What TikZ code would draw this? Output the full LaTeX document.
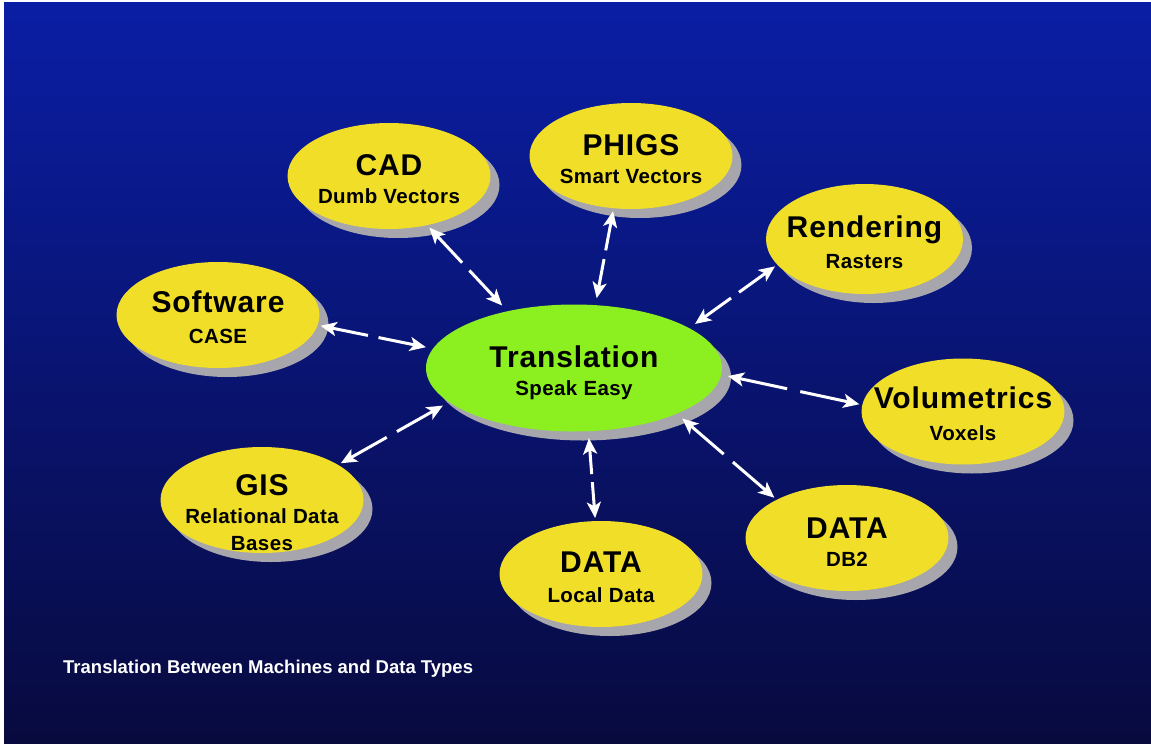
\documentclass[tikz,border=0pt]{standalone}
\usepackage{fontspec}
\setmainfont{Liberation Sans}
\usetikzlibrary{positioning,shapes,shadows,arrows.meta}
\definecolor{bgtop}{RGB}{10,30,165}
\definecolor{bgmid}{RGB}{10,26,132}
\definecolor{bgbot}{RGB}{8,10,62}
\definecolor{bubyellow}{RGB}{240,222,40}
\definecolor{bubgreen}{RGB}{140,240,32}
\definecolor{shadegray}{RGB}{166,166,172}
\tikzstyle{bubble} = [ellipse, fill=bubyellow, inner sep=0pt, outer sep=3pt, minimum width=203pt, minimum height=106pt, drop shadow={shadow xshift=9pt, shadow yshift=-9pt, fill=shadegray, opacity=1}]
\tikzstyle{hub} = [bubble, fill=bubgreen, minimum width=296pt, minimum height=127pt, outer sep=7pt]
\tikzstyle{head} = [anchor=base, inner sep=0pt, font=\fontsize{30}{30}\selectfont\bfseries\addfontfeatures{LetterSpace=3}]
\tikzstyle{sub} = [anchor=base, inner sep=0pt, font=\fontsize{20.5}{24}\selectfont\bfseries\addfontfeatures{LetterSpace=2}]
\tikzstyle{caption} = [anchor=base west, inner sep=0pt, text=white, font=\fontsize{18.5}{20}\selectfont\bfseries]
\tikzstyle{link} = [draw=white, line width=3pt, -{Stealth[length=16pt,width=14pt,inset=4pt]}]

\begin{document}
\begin{tikzpicture}[x=1pt, y=-1pt]
        \useasboundingbox (0,0) rectangle (1151,744);
        %Background
        \fill [white] (0,0) rectangle (1151,744);
        \shade [top color=bgtop, middle color=bgmid, bottom color=bgbot] (4,2) rectangle (1151,744);
        %Bubbles
        \node [hub] (trans) at (574,368) {};
        \node [head] (transH) at ([yshift=1pt]trans) {Translation};
        \node [sub] (transS) at ([yshift=-27pt]trans) {Speak Easy};
        \node [bubble] (cad) at (389,176) {};
        \node [head] (cadH) at ([yshift=1pt]cad) {CAD};
        \node [sub] (cadS) at ([yshift=-27pt]cad) {Dumb Vectors};
        \node [bubble] (phigs) at (631,156) {};
        \node [head] (phigsH) at ([yshift=1pt]phigs) {PHIGS};
        \node [sub] (phigsS) at ([yshift=-27pt]phigs) {Smart Vectors};
        \node [bubble, minimum width=197pt, minimum height=110pt] (rend) at (864.5,239) {};
        \node [head] (rendH) at ([yshift=2pt]rend) {Rendering};
        \node [sub] (rendS) at ([yshift=-29pt]rend) {Rasters};
        \node [bubble] (soft) at (218,315) {};
        \node [head] (softH) at ([yshift=3pt]soft) {Software};
        \node [sub] (softS) at ([yshift=-28pt]soft) {CASE};
        \node [bubble] (volu) at (963,411.5) {};
        \node [head] (voluH) at ([yshift=3pt]volu) {Volumetrics};
        \node [sub] (voluS) at ([yshift=-28.5pt]volu) {Voxels};
        \node [bubble] (gis) at (262,500) {};
        \node [head] (gisH) at ([yshift=5pt]gis) {GIS};
        \node [sub] (gisS) at ([yshift=-23pt]gis) {Relational Data};
        \node [sub] (gisS2) at ([yshift=-50pt]gis) {Bases};
        \node [bubble] (local) at (601,574) {};
        \node [head] (localH) at ([yshift=2pt]local) {DATA};
        \node [sub] (localS) at ([yshift=-28pt]local) {Local Data};
        \node [bubble] (db2) at (847,538) {};
        \node [head] (db2H) at ([yshift=0pt]db2) {DATA};
        \node [sub] (db2S) at ([yshift=-28.5pt]db2) {DB2};
        %Arrows
        \foreach \a/\b in {cad.-52.8/trans.139.2, phigs.-108.4/trans.72.1, rend.197.9/trans.20.3,
            soft.-6.6/trans.172.7, volu.176.4/trans.-3, gis.25.4/trans.196.5,
            local.96/trans.-78.4, db2.151/trans.-25.7} {
            \path (\a) -- (\b) coordinate[pos=.45] (m1) coordinate[pos=.55] (m2);
            \draw [link] (m1) -- (\a);
            \draw [link] (m2) -- (\b);
        }
        %Caption
        \node [caption] (note) at (63,673) {Translation Between Machines and Data Types};
    \end{tikzpicture}
\end{document}
